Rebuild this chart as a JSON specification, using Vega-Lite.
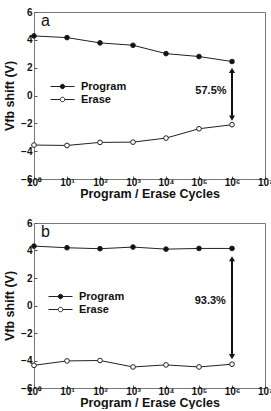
{
  "$schema": "https://vega.github.io/schema/vega-lite/v6.json",
  "padding": {"left": 3, "top": 6, "right": 0, "bottom": 0},
  "bounds": "flush",
  "spacing": 44,
  "datasets": {
    "series": [
      {"panel": "a", "series": "Program", "cycles": 1, "v": 4.28},
      {"panel": "a", "series": "Program", "cycles": 10, "v": 4.16},
      {"panel": "a", "series": "Program", "cycles": 100, "v": 3.78},
      {"panel": "a", "series": "Program", "cycles": 1000, "v": 3.61},
      {"panel": "a", "series": "Program", "cycles": 10000, "v": 3.01},
      {"panel": "a", "series": "Program", "cycles": 100000, "v": 2.8},
      {"panel": "a", "series": "Program", "cycles": 1000000, "v": 2.44},
      {"panel": "a", "series": "Erase", "cycles": 1, "v": -3.56},
      {"panel": "a", "series": "Erase", "cycles": 10, "v": -3.59},
      {"panel": "a", "series": "Erase", "cycles": 100, "v": -3.37},
      {"panel": "a", "series": "Erase", "cycles": 1000, "v": -3.35},
      {"panel": "a", "series": "Erase", "cycles": 10000, "v": -3.06},
      {"panel": "a", "series": "Erase", "cycles": 100000, "v": -2.39},
      {"panel": "a", "series": "Erase", "cycles": 1000000, "v": -2.1},
      {"panel": "b", "series": "Program", "cycles": 1, "v": 4.32},
      {"panel": "b", "series": "Program", "cycles": 10, "v": 4.2},
      {"panel": "b", "series": "Program", "cycles": 100, "v": 4.13},
      {"panel": "b", "series": "Program", "cycles": 1000, "v": 4.25},
      {"panel": "b", "series": "Program", "cycles": 10000, "v": 4.1},
      {"panel": "b", "series": "Program", "cycles": 100000, "v": 4.15},
      {"panel": "b", "series": "Program", "cycles": 1000000, "v": 4.15},
      {"panel": "b", "series": "Erase", "cycles": 1, "v": -4.35},
      {"panel": "b", "series": "Erase", "cycles": 10, "v": -4.03},
      {"panel": "b", "series": "Erase", "cycles": 100, "v": -4.0},
      {"panel": "b", "series": "Erase", "cycles": 1000, "v": -4.47},
      {"panel": "b", "series": "Erase", "cycles": 10000, "v": -4.32},
      {"panel": "b", "series": "Erase", "cycles": 100000, "v": -4.47},
      {"panel": "b", "series": "Erase", "cycles": 1000000, "v": -4.27}
    ],
    "arrows": [
      {"panel": "a", "cycles": 1000000, "top": 1.8, "bottom": -1.62},
      {"panel": "b", "cycles": 1000000, "top": 3.4, "bottom": -3.72}
    ],
    "notes": [
      {"panel": "a", "cycles": 230000, "v": 0.35, "label": "57.5%"},
      {"panel": "b", "cycles": 220000, "v": 0.32, "label": "93.3%"}
    ],
    "tags": [
      {"panel": "a", "cycles": 1, "v": 6, "label": "a"},
      {"panel": "b", "cycles": 1, "v": 6, "label": "b"}
    ]
  },
  "vconcat": [
    {
      "width": 231,
      "height": 167,
      "layer": [
        {
          "data": {"name": "series"},
          "transform": [{"filter": "datum.panel == 'a'"}],
          "mark": {"type": "line", "color": "#222", "strokeWidth": 1},
          "encoding": {
            "x": {"field": "cycles", "type": "quantitative", "scale": {"type": "log", "domain": [1, 10000000]},
              "axis": {"values": [1, 10, 100, 1000, 10000, 100000, 1000000, 10000000], "labelExpr": "'10' + ['⁰','¹','²','³','⁴','⁵','⁶','⁷'][round(log(datum.value)/LN10)]", "title": "Program / Erase Cycles"}},
            "y": {"field": "v", "type": "quantitative", "scale": {"domain": [-6, 6], "nice": false},
              "axis": {"tickCount": 7, "labelOverlap": false, "labelBound": false, "title": "Vfb shift (V)"}},
            "detail": {"field": "series"}
          }
        },
        {
          "data": {"name": "series"},
          "transform": [{"filter": "datum.panel == 'a'"}],
          "mark": {"type": "point", "stroke": "#222", "strokeWidth": 1, "opacity": 1, "size": 22},
          "encoding": {
            "x": {"field": "cycles", "type": "quantitative"},
            "y": {"field": "v", "type": "quantitative"},
            "fill": {"field": "series", "type": "nominal", "scale": {"domain": ["Program", "Erase"], "range": ["#111", "#ffffff"]},
              "legend": {"orient": "none", "legendX": 22, "legendY": 68, "title": null}}
          }
        },
        {
          "data": {"name": "arrows"},
          "transform": [{"filter": "datum.panel == 'a'"}],
          "mark": {"type": "rule", "color": "#111", "strokeWidth": 2},
          "encoding": {
            "x": {"field": "cycles", "type": "quantitative"},
            "y": {"field": "top", "type": "quantitative"},
            "y2": {"field": "bottom"}
          }
        },
        {
          "data": {"name": "arrows"},
          "transform": [{"filter": "datum.panel == 'a'"}, {"fold": ["top", "bottom"], "as": ["end", "v"]}],
          "mark": {"type": "point", "filled": true, "color": "#111", "opacity": 1, "size": 36},
          "encoding": {
            "x": {"field": "cycles", "type": "quantitative"},
            "y": {"field": "v", "type": "quantitative"},
            "shape": {"field": "end", "type": "nominal", "scale": {"domain": ["top", "bottom"], "range": ["triangle-up", "triangle-down"]}, "legend": null}
          }
        },
        {
          "data": {"name": "notes"},
          "transform": [{"filter": "datum.panel == 'a'"}],
          "mark": {"type": "text", "fontWeight": "bold", "fontSize": 11, "color": "#111"},
          "encoding": {
            "x": {"field": "cycles", "type": "quantitative"},
            "y": {"field": "v", "type": "quantitative"},
            "text": {"field": "label"}
          }
        },
        {
          "data": {"name": "tags"},
          "transform": [{"filter": "datum.panel == 'a'"}],
          "mark": {"type": "text", "fontSize": 16, "color": "#111", "align": "left", "baseline": "top", "dx": 7, "dy": 1},
          "encoding": {
            "x": {"field": "cycles", "type": "quantitative"},
            "y": {"field": "v", "type": "quantitative"},
            "text": {"field": "label"}
          }
        }
      ]
    },
    {
      "width": 231,
      "height": 165,
      "layer": [
        {
          "data": {"name": "series"},
          "transform": [{"filter": "datum.panel == 'b'"}],
          "mark": {"type": "line", "color": "#222", "strokeWidth": 1},
          "encoding": {
            "x": {"field": "cycles", "type": "quantitative", "scale": {"type": "log", "domain": [1, 10000000]},
              "axis": {"values": [1, 10, 100, 1000, 10000, 100000, 1000000, 10000000], "labelExpr": "'10' + ['⁰','¹','²','³','⁴','⁵','⁶','⁷'][round(log(datum.value)/LN10)]", "title": "Program / Erase Cycles"}},
            "y": {"field": "v", "type": "quantitative", "scale": {"domain": [-6, 6], "nice": false},
              "axis": {"tickCount": 7, "labelOverlap": false, "labelBound": false, "title": "Vfb shift (V)"}},
            "detail": {"field": "series"}
          }
        },
        {
          "data": {"name": "series"},
          "transform": [{"filter": "datum.panel == 'b'"}],
          "mark": {"type": "point", "stroke": "#222", "strokeWidth": 1, "opacity": 1, "size": 22},
          "encoding": {
            "x": {"field": "cycles", "type": "quantitative"},
            "y": {"field": "v", "type": "quantitative"},
            "fill": {"field": "series", "type": "nominal", "scale": {"domain": ["Program", "Erase"], "range": ["#111", "#ffffff"]},
              "legend": {"orient": "none", "legendX": 20, "legendY": 67, "title": null}}
          }
        },
        {
          "data": {"name": "arrows"},
          "transform": [{"filter": "datum.panel == 'b'"}],
          "mark": {"type": "rule", "color": "#111", "strokeWidth": 2},
          "encoding": {
            "x": {"field": "cycles", "type": "quantitative"},
            "y": {"field": "top", "type": "quantitative"},
            "y2": {"field": "bottom"}
          }
        },
        {
          "data": {"name": "arrows"},
          "transform": [{"filter": "datum.panel == 'b'"}, {"fold": ["top", "bottom"], "as": ["end", "v"]}],
          "mark": {"type": "point", "filled": true, "color": "#111", "opacity": 1, "size": 36},
          "encoding": {
            "x": {"field": "cycles", "type": "quantitative"},
            "y": {"field": "v", "type": "quantitative"},
            "shape": {"field": "end", "type": "nominal", "scale": {"domain": ["top", "bottom"], "range": ["triangle-up", "triangle-down"]}, "legend": null}
          }
        },
        {
          "data": {"name": "notes"},
          "transform": [{"filter": "datum.panel == 'b'"}],
          "mark": {"type": "text", "fontWeight": "bold", "fontSize": 11, "color": "#111"},
          "encoding": {
            "x": {"field": "cycles", "type": "quantitative"},
            "y": {"field": "v", "type": "quantitative"},
            "text": {"field": "label"}
          }
        },
        {
          "data": {"name": "tags"},
          "transform": [{"filter": "datum.panel == 'b'"}],
          "mark": {"type": "text", "fontSize": 16, "color": "#111", "align": "left", "baseline": "top", "dx": 7, "dy": 1},
          "encoding": {
            "x": {"field": "cycles", "type": "quantitative"},
            "y": {"field": "v", "type": "quantitative"},
            "text": {"field": "label"}
          }
        }
      ]
    }
  ],
  "resolve": {"scale": {"fill": "independent", "x": "independent", "y": "independent"}, "legend": {"fill": "independent"}},
  "config": {
    "font": "Liberation Sans",
    "view": {"stroke": "#777", "strokeWidth": 1},
    "axis": {"grid": false, "domain": false, "tickSize": -3, "tickColor": "#555", "labelFontWeight": "bold", "labelFontSize": 10, "labelColor": "#111", "labelPadding": 5, "labelOverlap": false, "titleFontWeight": "bold", "titleFontSize": 12.5, "titleColor": "#111"},
    "axisY": {"titlePadding": 4, "labelFlush": false},
    "axisX": {"titlePadding": 0, "labelPadding": 1, "labelFlush": false},
    "legend": {
      "symbolType": "M-2,0H-0.38M0.38,0H2M-0.38,0A0.38,0.38,0,1,1,0.38,0A0.38,0.38,0,1,1,-0.38,0Z",
      "symbolSize": 144,
      "symbolStrokeColor": "#222",
      "symbolStrokeWidth": 1,
      "symbolOpacity": 1,
      "labelOffset": 12,
      "labelFontSize": 11,
      "labelFontWeight": "bold",
      "labelColor": "#111",
      "rowPadding": 1,
      "padding": 0
    }
  }
}
